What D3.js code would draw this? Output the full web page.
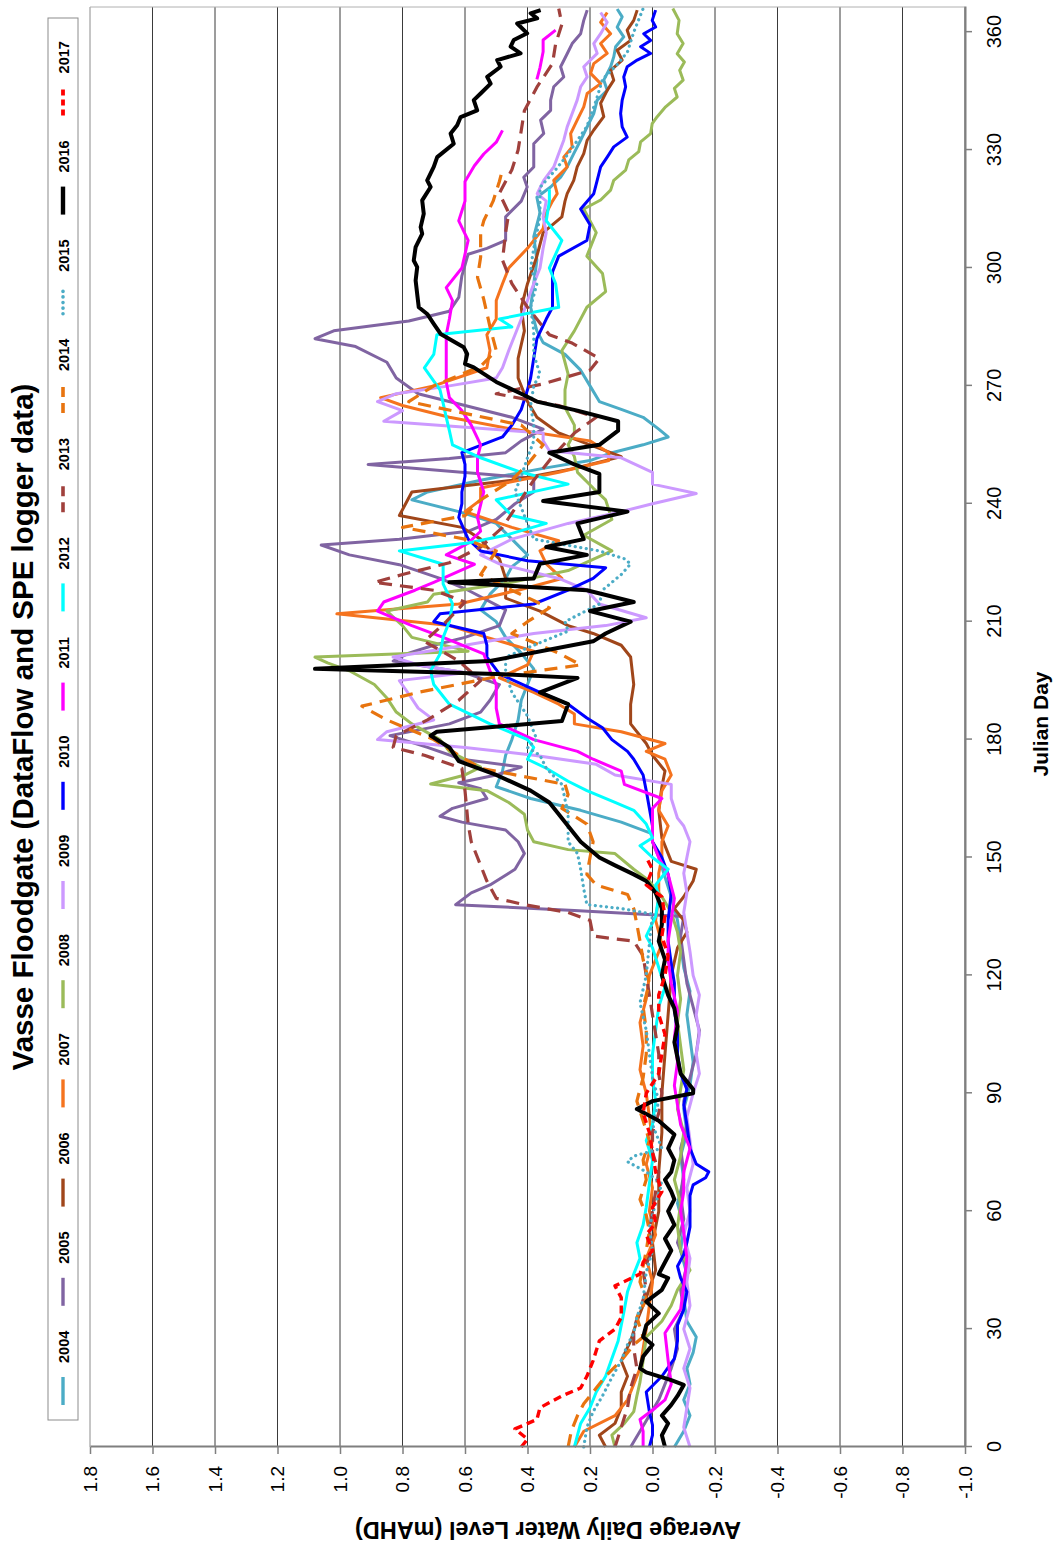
<!DOCTYPE html>
<html><head><meta charset="utf-8">
<script src="https://cdn.jsdelivr.net/npm/d3@7"></script>
<style>body{margin:0;background:#fff}svg{display:block}</style>
</head><body><svg id="chart" width="1055" height="1544"></svg>
<script>
// ---------------- DATA ----------------
const years = ["2004","2005","2006","2007","2008","2009","2010","2011","2012","2013","2014","2015","2016","2017"];
const yTickValues = [1.8,1.6,1.4,1.2,1.0,0.8,0.6,0.4,0.2,0.0,-0.2,-0.4,-0.6,-0.8,-1.0];
const xTickValues = [0,30,60,90,120,150,180,210,240,270,300,330,360];

const s2004 = [[0,-0.07],[4,-0.1],[8,-0.12],[12,-0.1],[16,-0.12],[20,-0.11],[24,-0.13],[28,-0.14],[32,-0.11],[38,-0.1],[44,-0.11],[50,-0.09],[56,-0.1],[62,-0.08],[68,-0.1],[74,-0.09],[80,-0.11],[86,-0.1],[92,-0.12],[98,-0.13],[104,-0.12],[110,-0.11],[116,-0.12],[122,-0.1],[128,-0.09],[134,-0.08],[140,-0.06],[145,-0.04],[150,-0.02],[154,0.0],[156,0.0],[159,0.1],[162,0.23],[165,0.39],[168,0.5],[172,0.48],[176,0.47],[180,0.45],[185,0.43],[190,0.42],[194,0.4],[198,0.38],[202,0.42],[206,0.47],[210,0.5],[213,0.55],[217,0.52],[221,0.47],[224,0.45],[227,0.4],[231,0.45],[235,0.5],[238,0.62],[241,0.77],[243,0.72],[246,0.55],[249,0.35],[251,0.2],[253,0.13],[255,0.03],[257,-0.05],[259,-0.02],[262,0.03],[264,0.1],[266,0.17],[270,0.2],[274,0.23],[278,0.28],[281,0.35],[284,0.37],[290,0.39],[296,0.38],[302,0.37],[308,0.38],[314,0.36],[318,0.37],[320.6,0.326],[323.1,0.294],[325.7,0.273],[329.1,0.252],[332.5,0.23],[335.9,0.209],[339.3,0.188],[342.7,0.177],[345.2,0.145],[347.8,0.156],[351.2,0.134],[353.7,0.124],[356.3,0.118],[358.8,0.092],[361.3,0.113],[363.9,0.097],[365.9,0.113]];
const s2005 = [[0,0.07],[4,0.04],[8,0.01],[12,-0.02],[16,-0.04],[20,-0.06],[25,-0.08],[30,-0.07],[35,-0.1],[40,-0.09],[46,-0.11],[52,-0.08],[58,-0.1],[64,-0.09],[70,-0.1],[76,-0.09],[82,-0.11],[88,-0.1],[94,-0.12],[100,-0.14],[106,-0.15],[112,-0.13],[118,-0.11],[124,-0.1],[130,-0.09],[135,-0.1],[136.5,0.25],[138,0.63],[141,0.58],[143,0.52],[147,0.44],[151,0.41],[154,0.43],[157,0.47],[159,0.61],[160.5,0.68],[162.5,0.64],[165,0.53],[167.5,0.55],[169,0.62],[171,0.5],[173,0.42],[175,0.61],[178,0.72],[181,0.84],[184,0.65],[187,0.55],[190,0.52],[194,0.49],[197,0.6],[200,0.83],[202,0.78],[204,0.7],[206,0.6],[209,0.49],[213,0.47],[218,0.59],[221,0.68],[224.5,0.81],[227,0.97],[229.5,1.06],[231,0.81],[233,0.59],[236,0.5],[240,0.44],[243,0.38],[246.5,0.38],[250,0.91],[251.5,0.65],[253,0.47],[256,0.42],[259,0.35],[262,0.45],[265,0.6],[268,0.75],[272,0.82],[276,0.85],[280,0.95],[282,1.08],[284,1.02],[286.5,0.78],[289,0.65],[292.5,0.62],[298,0.61],[303.5,0.59],[305,0.53],[307,0.47],[313,0.47],[317,0.42],[320.6,0.401],[323.1,0.412],[325.7,0.38],[328.2,0.38],[331.6,0.38],[334.2,0.348],[337.6,0.358],[340.1,0.326],[342.7,0.326],[346.1,0.316],[348.6,0.284],[351.2,0.294],[354.5,0.273],[357.1,0.257],[359.6,0.23],[363,0.22],[365.6,0.209]];
const s2006 = [[0,0.15],[3,0.17],[6,0.12],[10,0.1],[14,0.1],[18,0.08],[22,0.1],[27,0.07],[32,0.05],[38,0.02],[45,-0.01],[52,0.0],[60,-0.02],[70,-0.02],[80,-0.03],[90,-0.03],[100,-0.04],[110,-0.05],[120,-0.06],[127,-0.08],[131,-0.11],[134,-0.1],[137,-0.07],[140,-0.1],[144,-0.13],[147,-0.14],[149,-0.06],[155,-0.03],[162,-0.02],[168,-0.03],[172,-0.04],[176,0.0],[179,0.02],[184,0.07],[189,0.07],[194,0.06],[201,0.07],[204,0.1],[207,0.19],[209,0.27],[212.7,0.36],[216,0.47],[221,0.47],[226,0.49],[229,0.53],[231,0.55],[234,0.61],[237,0.81],[240,0.79],[243,0.77],[246,0.45],[249,0.25],[252,0.1],[255,0.2],[258,0.3],[262,0.37],[266,0.4],[272,0.43],[277,0.43],[284,0.41],[290,0.42],[296,0.4],[303,0.37],[309,0.35],[313,0.29],[317,0.28],[318.9,0.273],[322.3,0.252],[325.7,0.241],[329.1,0.22],[332.5,0.209],[335.1,0.188],[338.5,0.156],[341.9,0.166],[345.2,0.145],[347.8,0.124],[350.3,0.134],[352.9,0.097],[355.4,0.113],[357.9,0.07],[360.5,0.081],[363,0.06],[365.6,0.049]];
const s2007 = [[0,0.25],[4,0.22],[8,0.12],[12,0.08],[16,0.06],[20,0.04],[25,0.03],[30,0.02],[36,0.01],[42,0.0],[48,0.02],[54,-0.01],[60,0.01],[66,0.0],[72,0.02],[78,0.0],[84,0.01],[90,0.02],[96,0.04],[102,0.03],[108,0.04],[114,0.02],[120,0.01],[128,-0.03],[134,-0.01],[140,-0.02],[146,-0.02],[150,-0.03],[154,-0.03],[158,-0.05],[162,-0.02],[167,-0.03],[171,-0.06],[175,-0.04],[177,0.02],[179,-0.04],[182,0.1],[184,0.25],[186.5,0.25],[189,0.3],[192,0.38],[195.7,0.49],[199,0.4],[202.5,0.38],[206,0.53],[209,0.65],[212,1.01],[214.5,0.62],[218,0.43],[221,0.29],[224.7,0.34],[228,0.36],[230.6,0.3],[234,0.45],[238,0.6],[241,0.55],[244,0.55],[248,0.3],[251,0.14],[253,0.14],[256,0.2],[259,0.45],[262,0.65],[265,0.8],[267,0.87],[270,0.7],[274.6,0.53],[279,0.52],[283,0.53],[287,0.5],[291.7,0.5],[296,0.48],[300,0.46],[305,0.4],[310,0.35],[314,0.34],[317,0.32],[318.9,0.305],[322.3,0.316],[325.7,0.273],[328.2,0.284],[330.8,0.257],[334.2,0.262],[337.6,0.241],[341,0.22],[344.4,0.209],[346.9,0.166],[349.5,0.198],[352,0.188],[354.6,0.145],[357.1,0.166],[359.6,0.134],[362.5,0.166],[365,0.145]];
const s2008 = [[0,0.12],[3,0.13],[6,0.09],[9,0.06],[13,0.05],[16.5,0.04],[22,0.03],[28,0.02],[32,-0.03],[36,-0.06],[40,-0.08],[45,-0.12],[50,-0.09],[56,-0.08],[62,-0.09],[68,-0.07],[74,-0.09],[80,-0.1],[86,-0.08],[91,-0.09],[96,-0.1],[102,-0.09],[108,-0.08],[114,-0.09],[120,-0.08],[126,-0.09],[131,-0.08],[136,-0.06],[140,-0.03],[144,0.01],[147,0.06],[151,0.12],[152,0.27],[154,0.38],[157,0.4],[161,0.41],[164,0.46],[167,0.53],[168.7,0.71],[171,0.6],[173,0.55],[177,0.65],[180,0.68],[184,0.77],[187,0.82],[190.6,0.85],[194,0.89],[197.5,0.97],[199.5,1.04],[201,1.08],[202.5,0.59],[206,0.77],[209,0.8],[212.7,0.85],[215,0.72],[217,0.7],[220,0.45],[223,0.27],[228,0.13],[232,0.22],[236,0.13],[241,0.15],[244,0.19],[248,0.24],[252,0.25],[255,0.27],[258,0.25],[260,0.25],[264.5,0.28],[269,0.28],[273,0.27],[279,0.29],[284,0.25],[290,0.21],[294,0.15],[298.6,0.16],[303,0.21],[309,0.18],[315,0.22],[317.3,0.166],[319.8,0.134],[322.3,0.124],[324.9,0.086],[327.5,0.076],[329.6,0.044],[332.1,0.038],[334.2,0.006],[336.7,0.001],[338.5,-0.015],[341,-0.042],[343.5,-0.079],[345.7,-0.07],[347.8,-0.098],[350.3,-0.087],[352.4,-0.102],[354.5,-0.079],[357.1,-0.098],[359.6,-0.079],[363,-0.085],[366,-0.065]];
const s2009 = [[0,-0.12],[5,-0.1],[10,-0.11],[15,-0.12],[20,-0.1],[25,-0.12],[30,-0.1],[36,-0.12],[42,-0.11],[48,-0.12],[54,-0.1],[60,-0.12],[66,-0.11],[72,-0.13],[78,-0.12],[84,-0.11],[90,-0.13],[95,-0.15],[100,-0.14],[105,-0.15],[110,-0.14],[115,-0.15],[120,-0.13],[126,-0.12],[131,-0.11],[136,-0.1],[141,-0.11],[146,-0.1],[150,-0.11],[154,-0.12],[158,-0.1],[160,-0.08],[165,-0.06],[168.6,-0.06],[171,0.12],[173.7,0.18],[176,0.38],[178,0.6],[180,0.88],[182,0.85],[185,0.7],[188,0.75],[191.6,0.78],[195,0.81],[197,0.6],[199,0.75],[201,0.83],[204,0.6],[207,0.38],[209,0.15],[211,0.02],[214.5,0.17],[218,0.21],[221,0.3],[224.7,0.49],[227,0.55],[231,0.45],[235,0.27],[238,0.1],[240,0.0],[242.6,-0.14],[245,0.0],[248,0.0],[251.7,0.1],[253.5,0.33],[256,0.35],[258,0.35],[261,0.86],[263.7,0.8],[266,0.88],[268,0.82],[270,0.65],[272,0.5],[274.6,0.48],[279,0.46],[283,0.44],[287,0.42],[291.7,0.4],[296,0.38],[300,0.36],[305,0.35],[309,0.34],[313,0.35],[317,0.34],[318.9,0.369],[322.3,0.348],[325.7,0.316],[329.1,0.3],[332.5,0.284],[335.9,0.273],[339.3,0.257],[342.7,0.241],[346.1,0.23],[348.6,0.209],[351.2,0.22],[354.6,0.177],[357.1,0.188],[359.6,0.166],[362.5,0.145],[365,0.166]];
const s2010 = [[0,0.01],[3,0.0],[5.6,0.0],[9,0.01],[14,0.02],[18,-0.03],[22.5,-0.07],[27,-0.08],[31,-0.08],[35,-0.1],[39.5,-0.11],[43,-0.09],[46,-0.08],[49,-0.1],[52,-0.11],[56,-0.12],[60.7,-0.12],[64,-0.12],[66.7,-0.13],[68.5,-0.17],[70,-0.18],[72,-0.14],[76,-0.12],[82,-0.11],[87,-0.1],[91,-0.11],[95,-0.09],[100,-0.08],[105,-0.08],[111.6,-0.07],[118,-0.07],[123,-0.06],[128.7,-0.05],[134,-0.05],[141,-0.06],[145.7,-0.05],[150,-0.03],[154,0.0],[158,0.0],[162.5,0.01],[167,0.02],[171,0.03],[175,0.06],[177,0.08],[180,0.13],[183,0.16],[185.5,0.21],[189,0.27],[192,0.36],[196.7,0.49],[201,0.53],[204,0.53],[207,0.54],[210,0.7],[212,0.68],[214.5,0.38],[218,0.27],[221,0.19],[223.7,0.15],[225.5,0.4],[228,0.55],[231,0.59],[236.5,0.62],[240,0.61],[243,0.61],[247,0.6],[250,0.6],[253,0.61],[257,0.48],[260,0.45],[264,0.42],[269,0.4],[272,0.39],[277,0.38],[282,0.37],[287,0.34],[290,0.32],[294,0.32],[299,0.32],[303,0.3],[307,0.21],[311,0.2],[315,0.23],[318.9,0.188],[322.3,0.177],[325.7,0.166],[328.2,0.145],[330.8,0.124],[333.3,0.081],[335.9,0.097],[339.3,0.102],[342.7,0.097],[346.1,0.086],[348.6,0.092],[351.2,0.081],[352.9,0.049],[354.6,0.006],[356.3,0.038],[357.9,0.006],[359.6,0.028],[361.3,-0.01],[363,0.001],[365.6,-0.01]];
const s2011 = [[0,0.03],[4,0.03],[7,0.04],[10,-0.01],[12,-0.04],[16,-0.06],[22,-0.05],[29,-0.04],[35,-0.09],[41,-0.1],[48,-0.11],[54.7,-0.1],[60,-0.09],[65,-0.1],[70,-0.1],[76,-0.12],[82,-0.09],[87,-0.08],[92,-0.07],[98,-0.08],[104,-0.07],[111,-0.08],[118,-0.06],[124,-0.05],[128.7,-0.05],[134,-0.06],[139.6,-0.07],[145.7,-0.05],[150,-0.02],[154,0.0],[158,0.0],[162.5,0.0],[165,-0.03],[168.6,0.09],[172,0.1],[175,0.19],[177,0.24],[180,0.38],[184,0.49],[188,0.5],[194,0.5],[197.5,0.52],[201.8,0.54],[206,0.67],[209,0.77],[212.7,0.88],[215,0.86],[218,0.76],[220,0.7],[224.6,0.57],[227,0.66],[230,0.59],[233,0.55],[236.5,0.56],[243,0.54],[248,0.56],[251.7,0.56],[255,0.55],[260,0.58],[263.7,0.61],[267,0.65],[271,0.66],[274.6,0.66],[279,0.66],[283,0.66],[287,0.65],[291.7,0.64],[295,0.66],[300,0.61],[307,0.59],[312,0.62],[317,0.6],[322,0.6],[326,0.57],[329,0.54],[332,0.5],[335,0.48],[341,null],[348,0.37],[351,0.36],[355,0.35],[358,0.35],[360.5,0.31]];
const s2012 = [[0,0.25],[3,0.24],[6,0.23],[10,0.2],[14,0.18],[18,0.15],[22.5,0.13],[27,0.11],[31,0.1],[35,0.09],[39.5,0.08],[44,0.06],[48,0.04],[52,0.05],[56.5,0.03],[61,0.02],[67,0.01],[73,0.0],[78,0.02],[82,0.0],[88,-0.01],[94,0.0],[100,0.0],[106,-0.01],[112,-0.02],[117,-0.04],[122,-0.02],[127,0.0],[130,0.02],[135,-0.01],[140,-0.02],[143,-0.01],[147,-0.05],[150,0.0],[153,0.04],[155,0.0],[158.5,0.02],[162,0.06],[164,0.12],[167,0.21],[169.4,0.27],[172.7,0.34],[175,0.4],[178,0.38],[180,0.4],[184,0.52],[189,0.65],[194,0.7],[197.5,0.71],[201.8,0.68],[206,0.67],[210,0.65],[214.5,0.64],[219.6,0.67],[224.6,0.67],[228,0.81],[230,0.59],[232,0.47],[235,0.34],[237,0.45],[241,0.5],[245,0.27],[248,0.42],[251.7,0.55],[255,0.64],[258.6,0.65],[262,0.66],[265.6,0.67],[269,0.68],[274.6,0.73],[278,0.7],[283,0.69],[285,0.45],[287,0.49],[290,0.3],[296,0.31],[300,0.33],[307,0.29],[312,0.34],[317,0.33],[320,0.33]];
const s2013 = [[0,0.12],[5,0.1],[10,0.08],[15,0.07],[20,0.05],[25,0.06],[30,0.06],[35,0.04],[40,0.02],[45,0.03],[50,0.0],[55,0.01],[60,0.0],[65,-0.01],[70,-0.02],[75,0.0],[80,0.0],[85,-0.02],[90,-0.03],[95,-0.02],[100,-0.02],[105,-0.01],[110,0.0],[115,0.01],[120,0.02],[125,0.03],[128.7,0.06],[130,0.19],[134,0.2],[136,0.27],[138,0.41],[139.6,0.5],[144,0.53],[150,0.56],[154,0.58],[158.5,0.59],[167,0.6],[172.7,0.61],[176,0.73],[178,0.83],[181,0.82],[185,0.72],[190,0.62],[195,0.55],[200,0.62],[205,0.73],[210,0.66],[215,0.6],[218,0.7],[220,0.89],[222,0.8],[225,0.65],[229,0.55],[234,0.48],[240,0.43],[246,0.38],[252,0.32],[258,0.25],[262,0.18],[265,0.3],[268,0.5],[270.5,0.35],[274,0.2],[277,0.17],[281,0.26],[283,0.33],[290,0.4],[296,0.45],[302,0.48],[309,0.47],[314,0.46],[319,0.49],[325,0.45],[330,0.43],[335,0.42],[340,0.41],[346,0.37],[352,0.32],[357,0.31],[362,0.29],[366,0.3]];
const s2014 = [[0,0.27],[4,0.26],[8,0.24],[11,0.22],[15,0.18],[18,0.15],[22,0.1],[26,0.06],[28,0.03],[33,0.05],[37.5,0.02],[42,0.04],[46,0.03],[50,0.02],[55,0.01],[59,0.02],[63,0.04],[68,0.02],[73,0.03],[78,0.01],[83,0.03],[88,0.05],[94,0.03],[100,0.02],[106,0.02],[112,0.03],[118,0.01],[124,0.03],[128.7,0.04],[133,0.05],[137,0.06],[140.6,0.08],[143,0.18],[145.7,0.21],[150,0.2],[154,0.19],[158.5,0.21],[162.5,0.29],[166,0.27],[168.6,0.28],[172.7,0.55],[176,0.62],[180,0.7],[185,0.85],[188.5,0.93],[192,0.75],[196,0.5],[199,0.23],[202,0.3],[207,0.45],[210,0.4],[213.5,0.33],[218,0.45],[222,0.55],[228,0.5],[231,0.6],[234,0.8],[237,0.6],[241,0.55],[246,0.45],[250,0.4],[255,0.35],[260,0.42],[263,0.6],[266,0.78],[270,0.7],[275,0.55],[279,0.5],[285,0.52],[292,0.54],[297.6,0.56],[302.7,0.55],[309,0.55],[312,0.54],[317,0.51],[322,0.49],[325,0.48]];
const s2015 = [[0,0.22],[5,0.21],[9,0.19],[13,0.16],[17.7,0.13],[22,0.1],[26,0.08],[29,0.06],[33,0.05],[37.5,0.03],[44.5,0.02],[50,0.0],[56,0.01],[62,-0.01],[67,-0.03],[70,0.02],[72.6,0.08],[74,0.06],[76,-0.03],[82,0.0],[88,-0.02],[94,0.0],[100,0.01],[106,0.02],[113,0.04],[120,0.02],[128,0.01],[135.6,0.0],[137,0.1],[138,0.21],[142,0.22],[147,0.23],[151,0.24],[154,0.27],[161,0.27],[168.6,0.29],[172.7,0.34],[176,0.36],[178,0.4],[180,0.37],[186,0.4],[192,0.45],[197,0.47],[201,0.47],[204,0.38],[207.6,0.27],[210,0.28],[214.5,0.17],[218,0.16],[222,0.1],[224.7,0.07],[226,0.09],[228,0.17],[231,0.38],[235,0.4],[239,0.42],[243,0.44],[247,0.42],[251.7,0.4],[256,0.38],[260,0.38],[265,0.39],[270,0.38],[273,0.36],[278,0.38],[284,0.38],[290,0.39],[296,0.37],[300,0.39],[305,0.38],[309,0.37],[313,0.36],[317,0.36],[320.5,0.36],[325,0.31],[329,0.27],[336,0.21],[342.7,0.18],[348,0.16],[352,0.11],[355,0.08],[360,0.06],[366,0.03]];
const s2016 = [[0,-0.04],[3,-0.03],[6,-0.05],[8,-0.03],[10.7,-0.06],[13,-0.08],[15.8,-0.1],[17,-0.06],[19,0.02],[20,0.04],[23,0.03],[26,0.0],[28,0.03],[31,0.02],[34,-0.02],[37,0.02],[40,-0.03],[43,-0.05],[44,-0.02],[47,-0.04],[50,-0.06],[53,-0.04],[56.5,-0.07],[60,-0.05],[63,-0.07],[65,-0.06],[68,-0.04],[70,-0.06],[73,-0.07],[76,-0.05],[79.5,-0.07],[83,-0.02],[86,0.05],[88,0.0],[90,-0.13],[91,-0.13],[95,-0.09],[99,-0.08],[103,-0.07],[107,-0.08],[111.6,-0.07],[115,-0.05],[120,-0.03],[124,-0.04],[128.7,-0.02],[133,-0.03],[137,-0.03],[141,-0.01],[144,0.02],[145.7,0.06],[148,0.12],[150,0.17],[154,0.23],[157,0.26],[161,0.3],[164,0.33],[167,0.39],[171,0.5],[174.5,0.62],[178,0.65],[181,0.71],[182,0.69],[184.7,0.29],[189,0.27],[192,0.36],[195.7,0.24],[196.7,0.5],[198,1.08],[200,0.52],[205,0.19],[207,0.15],[210,0.07],[212.7,0.2],[215,0.06],[218,0.21],[220,0.65],[221,0.38],[224.7,0.36],[227,0.21],[229,0.34],[231,0.22],[235,0.24],[238,0.08],[240.7,0.35],[243,0.17],[247.6,0.17],[250,0.25],[253,0.33],[255,0.17],[258.6,0.11],[261,0.11],[263.7,0.24],[266,0.37],[268,0.42],[271,0.5],[274.7,0.572],[275.6,0.6],[278.1,0.593],[279.8,0.604],[283.2,0.678],[285.8,0.70],[288.3,0.721],[290,0.748],[293.4,0.753],[296.8,0.758],[300.2,0.753],[301.9,0.764],[305.3,0.758],[308.7,0.737],[310.4,0.742],[313.8,0.732],[317.2,0.737],[320.6,0.71],[322.3,0.721],[325.7,0.70],[328.2,0.689],[331.6,0.636],[334.2,0.646],[336.3,0.625],[338.4,0.614],[340.1,0.561],[342.7,0.572],[344.4,0.55],[346.9,0.518],[348.6,0.529],[351.2,0.486],[352.9,0.497],[354.6,0.422],[356.3,0.454],[358,0.444],[359.7,0.401],[362.2,0.433],[363.5,0.369],[364.8,0.39],[365.6,0.358]];
const s2017 = [[0,0.42],[2,0.4],[4.6,0.44],[7,0.37],[10,0.36],[13,0.29],[15,0.23],[18,0.21],[22,0.19],[27,0.17],[30,0.12],[33,0.1],[38,0.1],[41,0.12],[44,0.04],[47,0.03],[50,0.0],[54,0.02],[57,-0.01],[61,0.0],[65,-0.03],[70,-0.01],[75,0.0],[80,0.01],[85,0.03],[90,0.02],[95,-0.02],[100,-0.03],[105,-0.04],[110,-0.02],[115,-0.02],[120,-0.04],[125,-0.05],[130,-0.03],[135,-0.04],[140,-0.03],[143,0.02],[147,0.0],[150,0.02]];

const seriesValues = [s2004,s2005,s2006,s2007,s2008,s2009,s2010,s2011,s2012,s2013,s2014,s2015,s2016,s2017];

// ---------------- STYLE ----------------
const colors = ["#4BACC6","#8064A2","#A0461A","#F5731E","#9BBB59","#CC99FF","#0000FF","#FF00FF","#00FFFF","#A0403C","#E8740F","#4BACC6","#000000","#FF0000"];
const dashArr = [null,null,null,null,null,null,null,null,null,"13,8","13,8","0.1,5.5",null,"8,5"];
const widths = [3,3,3,3,3,3,3,3,3,3.2,3.2,3.2,4,3.4];

const W = 1544; // unrotated frame width (= page height)
const m = {left:97, right:1537, top:90, bottom:965};
const fontReg = "'Liberation Sans', Arial, sans-serif";

const svg = d3.select("#chart");
svg.append("rect").attr("width",1055).attr("height",1544).attr("fill","#fff");
const g = svg.append("g").attr("transform",`translate(0,${W}) rotate(-90)`);

const x = d3.scaleLinear().domain([0,366.4]).range([m.left,m.right]);
const y = d3.scaleLinear().domain([-1.0,1.8]).range([m.bottom,m.top]);

// gridlines
g.append("g").selectAll("line").data(yTickValues).join("line")
  .attr("x1",m.left).attr("x2",m.right)
  .attr("y1",d=>y(d)).attr("y2",d=>y(d))
  .attr("stroke",(d,i)=> i===0 ? "#8c8c8c" : "#3a3a3a").attr("stroke-width",1);
g.append("line").attr("x1",m.right).attr("x2",m.right).attr("y1",m.top).attr("y2",m.bottom)
  .attr("stroke","#b0b0b0").attr("stroke-width",1);

// series
const line = d3.line().defined(d=>d[1]!==null).x(d=>x(d[0])).y(d=>y(d[1]));
const sg = g.append("g");
seriesValues.forEach((s,i)=>{
  sg.append("path").datum(s).attr("d",line)
    .attr("fill","none").attr("stroke",colors[i]).attr("stroke-width",widths[i])
    .attr("stroke-linejoin","round")
    .attr("stroke-linecap", i===11 ? "round" : "butt")
    .attr("stroke-dasharray",dashArr[i]);
});

// axes
const yAxis = d3.axisLeft(y).tickValues(yTickValues).tickFormat(d=>d.toFixed(1)).tickSize(7).tickSizeOuter(0).tickPadding(12);
const ya = g.append("g").attr("transform",`translate(${m.left},0)`).call(yAxis);
ya.select(".domain").attr("stroke","#7f7f7f").attr("stroke-width",2);
ya.selectAll(".tick line").attr("stroke","#7f7f7f").attr("stroke-width",1.5);
ya.selectAll(".tick text").attr("font-family",fontReg).attr("font-size",19).attr("fill","#000");

const xAxis = d3.axisBottom(x).tickValues(xTickValues).tickSize(7).tickSizeOuter(0).tickPadding(15);
const xa = g.append("g").attr("transform",`translate(0,${m.bottom})`).call(xAxis);
xa.select(".domain").attr("stroke","#7f7f7f").attr("stroke-width",2);
xa.selectAll(".tick line").attr("stroke","#7f7f7f").attr("stroke-width",1.5);
xa.selectAll(".tick text").attr("font-family",fontReg).attr("font-size",20).attr("fill","#000");

// titles
g.append("text").attr("x",817).attr("y",33).attr("text-anchor","middle")
  .attr("font-family",fontReg).attr("font-weight","bold").attr("font-size",29.5)
  .text("Vasse Floodgate (DataFlow and SPE logger data)");
g.append("text").attr("transform","translate(22,548) rotate(-90)").attr("text-anchor","middle")
  .attr("font-family",fontReg).attr("font-weight","bold").attr("font-size",23.5)
  .text("Average Daily Water Level (mAHD)");
g.append("text").attr("x",820).attr("y",1048).attr("text-anchor","middle")
  .attr("font-family",fontReg).attr("font-weight","bold").attr("font-size",21)
  .text("Julian Day");

// legend
const lg = g.append("g");
lg.append("rect").attr("x",124).attr("y",48).attr("width",1402).attr("height",30)
  .attr("fill","#fff").attr("stroke","#8c8c8c").attr("stroke-width",1);
years.forEach((yr,i)=>{
  const u0 = 139 + i*99.2;
  lg.append("line").attr("x1",u0).attr("x2",u0+28).attr("y1",63).attr("y2",63)
    .attr("stroke",colors[i]).attr("stroke-width",widths[i]+0.4)
    .attr("stroke-linecap", i===11 ? "round" : "butt")
    .attr("stroke-dasharray", i===9||i===10 ? "10,6" : i===13 ? "6,4" : dashArr[i]);
  lg.append("text").attr("x",u0+42).attr("y",69).attr("font-family",fontReg)
    .attr("font-weight","bold").attr("font-size",14.5).attr("fill","#000").text(yr);
});
</script></body></html>
